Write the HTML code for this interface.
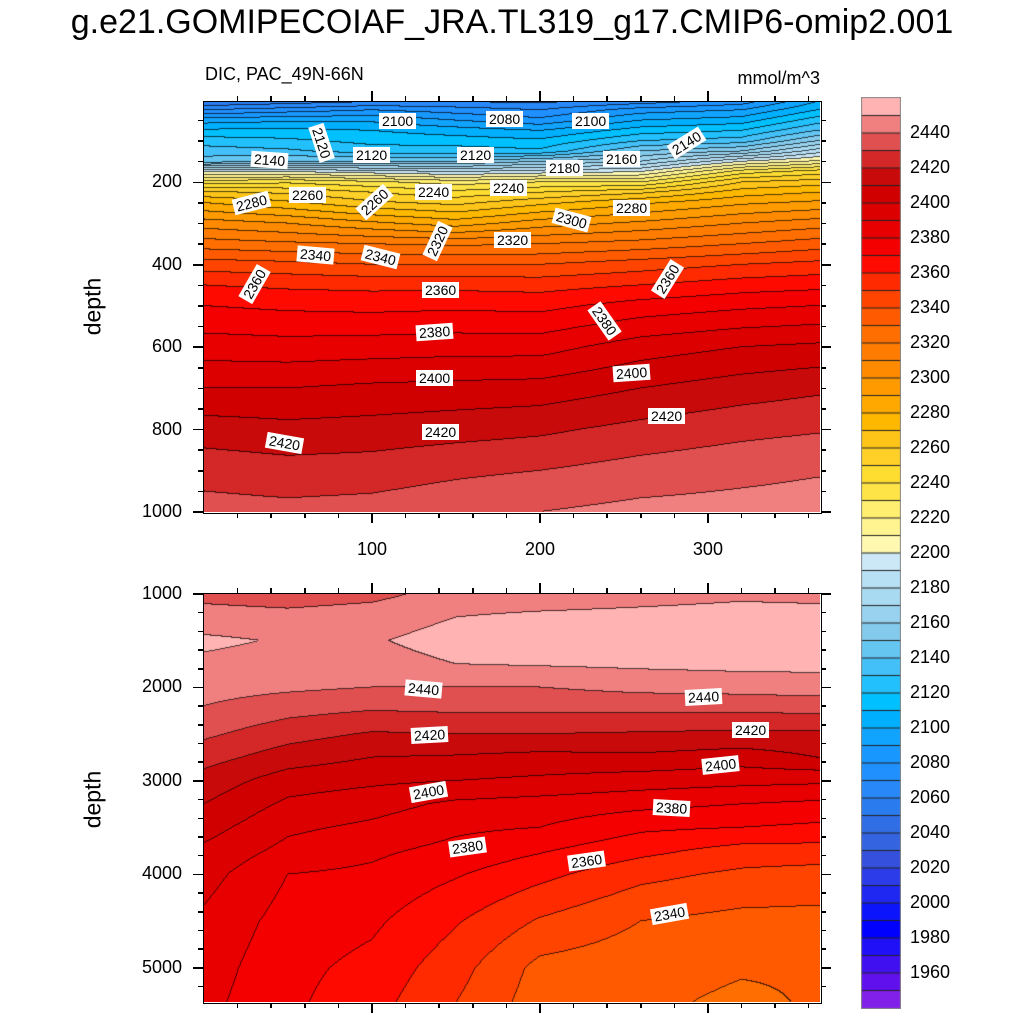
<!DOCTYPE html>
<html><head><meta charset="utf-8">
<style>
body{margin:0;background:#fff;}
#root{position:relative;width:1024px;height:1024px;overflow:hidden;font-family:"Liberation Sans",sans-serif;color:#000;}
.abs{position:absolute;}
canvas{position:absolute;}
.frame{position:absolute;border:1.5px solid #000;box-sizing:border-box;}
.tl{position:absolute;font-size:18px;white-space:nowrap;}
.cl{position:absolute;font-size:14px;background:#fff;padding:0 3px;line-height:16px;white-space:nowrap;transform-origin:center;}
.tick{position:absolute;background:#000;}
</style></head>
<body>
<div id="root">
<div class="abs" style="left:0;width:1024px;top:3px;text-align:center;font-size:34px;">g.e21.GOMIPECOIAF_JRA.TL319_g17.CMIP6-omip2.001</div>
<div class="abs" style="left:205px;top:64px;font-size:18px;">DIC, PAC_49N-66N</div>
<div class="abs" style="left:700px;width:120px;text-align:right;top:68px;font-size:18px;">mmol/m^3</div>
<div class="abs" style="left:53px;top:293px;width:80px;text-align:center;font-size:23px;transform:rotate(-90deg);">depth</div>
<div class="abs" style="left:53px;top:786px;width:80px;text-align:center;font-size:23px;transform:rotate(-90deg);">depth</div>

<canvas id="cTop" width="616" height="410" style="left:204px;top:102px;"></canvas>
<canvas id="cBot" width="616" height="408" style="left:204px;top:594px;"></canvas>
<div class="frame" style="left:203px;top:101px;width:619px;height:413px;"></div>
<div class="frame" style="left:203px;top:593px;width:619px;height:411px;"></div>
<div id="axes"></div>
<div id="labels"></div>
<canvas id="cbar" width="40" height="912" style="left:861px;top:97px;"></canvas>
<div id="cbarLabels"></div>
</div>
<script>
// ---- color scale ----
const levelMin = 1940;
const levelColors = ["#8020E8","#6010EC","#4010F0","#2010F8","#0000FF","#0C14FC","#1E28F0","#2C3CE8","#3450DC","#3464E0","#306EE6","#2A7CEE","#2888F8","#2090FF","#1898FF","#10A4FF","#00B0FF","#00C0FF","#22C0FC","#44C0F8","#66C6F2","#84CAEC","#98D2EE","#A8DAF2","#B8E0F4","#CCE8F6","#FFF8B0","#FFF490","#FFEE70","#FFE448","#FFDC30","#FFD028","#FFC418","#FFB800","#FFA800","#FF9A00","#FF8A00","#FF7C00","#FF6E00","#FF5A00","#FF4400","#FF2A00","#FF0A00","#F40000","#E80000","#DC0000","#D00000","#C80A0A","#D42828","#E05050","#F08080","#FFB3B3"];
const cbarTicks = [2440,2420,2400,2380,2360,2340,2320,2300,2280,2260,2240,2220,2200,2180,2160,2140,2120,2100,2080,2060,2040,2020,2000,1980,1960];

// ---- upper panel data ----
const topDays = [0,50,100,150,200,260,320,365];
const topDepths = [5,25,50,75,100,125,150,175,200,225,250,300,350,400,450,500,600,700,800,900,1000];
const topDIC = [
 [2050,2070,2095,2112,2125,2135,2145,2200,2235,2262,2280,2305,2325,2345,2360,2370,2385,2400,2415,2426,2434],
 [2055,2075,2098,2113,2122,2132,2150,2200,2238,2258,2272,2300,2322,2343,2358,2368,2384,2400,2413,2424,2433],
 [2060,2080,2098,2110,2117,2125,2150,2195,2232,2250,2262,2292,2320,2340,2357,2367,2385,2402,2414,2425,2434],
 [2060,2075,2090,2105,2115,2125,2150,2190,2225,2243,2257,2285,2318,2340,2357,2368,2386,2403,2416,2428,2437],
 [2058,2070,2083,2100,2112,2122,2160,2195,2230,2250,2267,2295,2320,2340,2356,2367,2386,2404,2418,2430,2440],
 [2065,2085,2100,2115,2130,2150,2170,2200,2230,2258,2278,2302,2324,2345,2360,2374,2395,2410,2423,2434,2443],
 [2075,2090,2105,2120,2135,2160,2200,2235,2260,2275,2288,2310,2330,2350,2365,2378,2400,2415,2427,2437,2444],
 [2100,2110,2125,2140,2160,2185,2212,2245,2265,2280,2292,2315,2335,2353,2367,2380,2402,2418,2429,2439,2445]
];
// ---- lower panel data ----
const botDays = [0,50,100,150,200,260,320,365];
const botDepths = [1000,1250,1500,1750,2000,2250,2500,2750,3000,3250,3500,3750,4000,4500,5000,5375];
const botDIC = [
 [2437,2444,2452,2448,2444,2439,2432,2424,2416,2410,2404,2398,2394,2388,2385,2383],
 [2435,2443,2449,2446,2442,2433,2424,2415,2405,2398,2392,2387,2380,2376,2373,2372],
 [2437,2445,2449,2446,2440,2430,2419,2410,2402,2394,2388,2382,2378,2372,2367,2364],
 [2444,2450,2454,2450,2440,2431,2420,2409,2400,2388,2382,2377,2371,2361,2354,2350],
 [2444,2452,2456,2451,2440,2431,2420,2407,2398,2386,2380,2371,2363,2349,2337,2335],
 [2446,2453,2456,2452,2443,2431,2419,2408,2395,2383,2372,2363,2353,2340,2334,2332],
 [2448,2454,2456,2453,2444,2431,2418,2405,2393,2380,2370,2356,2348,2337,2331,2328],
 [2447,2454,2456,2453,2445,2432,2418,2410,2392,2378,2368,2356,2346,2337,2331,2331]
];

// ---- axis functions ----
const X0=204, PW=616, DAY_MAX=366.7;
function xOfDay(d){return d/DAY_MAX*PW;}
function dayOfX(x){return x/PW*DAY_MAX;}
const topD0=5, topD1=1000, botD0=1000, botD1=5365;
function interp1(arr, v){
  if(v<=arr[0]) return [0,0];
  for(let i=0;i<arr.length-1;i++){ if(v<=arr[i+1]) return [i,(v-arr[i])/(arr[i+1]-arr[i])]; }
  return [arr.length-2,1];
}
function field(days, depths, grid, day, dep){
  const [i,ti]=interp1(days,day), [j,tj]=interp1(depths,dep);
  const a=grid[i][j]*(1-tj)+grid[i][j+1]*tj;
  const b=grid[i+1][j]*(1-tj)+grid[i+1][j+1]*tj;
  return a*(1-ti)+b*ti;
}
function lvl(v){let k=Math.floor((v-levelMin)/10);return Math.max(0,Math.min(levelColors.length-1,k));}
function hex(c){return [parseInt(c.substr(1,2),16),parseInt(c.substr(3,2),16),parseInt(c.substr(5,2),16)];}
const rgb=levelColors.map(hex);

function drawPanel(id, days, depths, grid, d0, d1){
  const cv=document.getElementById(id), ctx=cv.getContext('2d');
  const W=cv.width, H=cv.height;
  const img=ctx.createImageData(W,H);
  const L=new Int16Array(W*H);
  for(let y=0;y<H;y++){const dep=d0+(y+0.5)/H*(d1-d0);
    for(let x=0;x<W;x++){L[y*W+x]=lvl(field(days,depths,grid,dayOfX(x+0.5),dep));}}
  for(let y=0;y<H;y++)for(let x=0;x<W;x++){
    const k=L[y*W+x]; let c=rgb[k];
    let edge=(x<W-1&&L[y*W+x+1]!==k)||(y<H-1&&L[(y+1)*W+x]!==k);
    const p=(y*W+x)*4;
    if(edge){img.data[p]=c[0]*0.3;img.data[p+1]=c[1]*0.3;img.data[p+2]=c[2]*0.3;}
    else{img.data[p]=c[0];img.data[p+1]=c[1];img.data[p+2]=c[2];}
    img.data[p+3]=255;}
  ctx.putImageData(img,0,0);
}
drawPanel('cTop',topDays,topDepths,topDIC,topD0,topD1);
drawPanel('cBot',botDays,botDepths,botDIC,botD0,botD1);

// colorbar
(function(){
  const cv=document.getElementById('cbar'),ctx=cv.getContext('2d');
  const n=levelColors.length, h=17.5;
  ctx.fillStyle='#888';ctx.fillRect(0,0,40,912);
  for(let i=0;i<n;i++){const k=n-1-i;ctx.fillStyle=levelColors[k];ctx.fillRect(1,1+i*h,38,h);
    if(i>0){ctx.fillStyle='#222';ctx.fillRect(1,1+i*h-0.5,38,1);}}
  const lab=document.getElementById('cbarLabels');
  cbarTicks.forEach(v=>{
    const y=97+1+(2460-v)/10*h;
    const d=document.createElement('div');
    
    
    d.className='tl';d.style.left='910px';d.style.top=(y-11)+'px';d.textContent=v;
    lab.appendChild(d);
  });
})();

// axes ticks & labels
(function(){
  const ax=document.getElementById('axes');
  function tick(x,y,w,h){const t=document.createElement('div');t.className='tick';
    
    
    t.style.left=x+'px';t.style.top=y+'px';t.style.width=w+'px';t.style.height=h+'px';ax.appendChild(t);}
  function label(txt,x,y,align,name){const d=document.createElement('div');d.className='tl';
    
    
    d.textContent=txt;d.style.top=(y-11)+'px';
    if(align==='r'){d.style.left=(x-80)+'px';d.style.width='80px';d.style.textAlign='right';}
    else{d.style.left=(x-40)+'px';d.style.width='80px';d.style.textAlign='center';}
    ax.appendChild(d);}
  const panels=[{top:102,bot:512,d0:topD0,d1:topD1,maj:200,min:50,xl:true},
                {top:594,bot:1002,d0:botD0,d1:botD1,maj:1000,min:200,xl:false}];
  panels.forEach(p=>{
    const H=p.bot-p.top, yOf=d=>p.top+(d-p.d0)/(p.d1-p.d0)*H;
    for(let d=Math.ceil(p.d0/p.min)*p.min; d<=p.d1; d+=p.min){
      const y=yOf(d), maj=(d%p.maj===0), len=maj?10:5;
      tick(X0-len-1,y-0.75,len,1.5); tick(X0+PW+1,y-0.75,len,1.5);
      if(maj) label(String(d),182,y,'r','y-tick-label-'+d);
    }
    for(let day=20; day<=360; day+=20){
      const x=X0+xOfDay(day), maj=(day%100===0), len=maj?10:5;
      tick(x-0.75,p.top-len-1,1.5,len); tick(x-0.75,p.bot+1,1.5,len);
      if(maj&&p.xl) label(String(day),x,550,'c','x-tick-label-'+day);
    }
  });
})();

// contour labels
const contourLabels=[
 ["2100",398,121,0],["2080",505,119,0],["2100",591,121,0],["2120",322,143,72],["2140",270,160,4],
 ["2120",372,155,0],["2120",476,155,0],["2180",565,168,0],["2160",622,159,0],["2140",687,143,-32],
 ["2280",252,203,-14],["2260",308,195,0],["2260",375,202,-42],["2240",434,192,0],["2240",509,188,0],
 ["2300",572,220,15],["2280",632,208,0],["2320",438,241,-65],["2320",513,240,0],["2340",316,255,5],
 ["2340",381,257,14],["2360",255,284,-60],["2360",441,290,0],["2360",668,279,-58],["2380",435,332,-4],
 ["2380",605,321,55],["2400",435,378,0],["2400",632,373,-4],["2420",285,443,10],["2420",441,432,0],["2420",667,416,0],
 ["2440",424,689,5],["2440",704,697,-3],["2420",430,735,-3],["2420",751,730,0],["2400",429,792,-10],
 ["2400",721,765,-6],["2380",468,847,-8],["2380",672,808,3],["2360",587,861,-8],["2340",670,914,-10]
];
(function(){
  const box=document.getElementById('labels');
  contourLabels.forEach(c=>{
    const d=document.createElement('div');
    
    
    d.className='cl';d.textContent=c[0];
    d.style.left=(c[1]-19)+'px';d.style.top=(c[2]-8)+'px';d.style.transform='rotate('+c[3]+'deg)';
    box.appendChild(d);
  });
})();
</script>
</body></html>
